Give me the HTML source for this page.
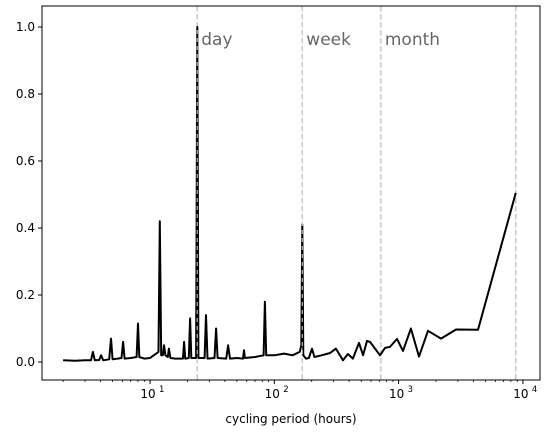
<!DOCTYPE html>
<html><head><meta charset="utf-8"><style>
body{margin:0;background:#fff;font-family:"Liberation Sans","DejaVu Sans",sans-serif}
svg text{font-family:"DejaVu Sans","Liberation Sans",sans-serif}
</style></head><body>
<svg id="chart" width="547" height="437" xmlns="http://www.w3.org/2000/svg"></svg>
<script>
const periods = [2,2.5,3,3.35,3.47,3.6,3.9,4.04,4.2,4.7,4.86,5.0,5.5,5.9,6.07,6.25,7.0,7.8,8.0,8.2,9,10,11.7,12.0,12.3,12.7,12.97,13.3,13.9,14.2,14.6,16,18.4,18.8,19.2,20.5,21,21.5,23.5,24,24.5,27.5,28.2,29,33,34,35,41,42.5,44,50,56,57,58,70,82,84,86,100,120,140,160,165,168,171,180,190,201,210,240,281,313,357,391,429,480,518,557,589,709,778,853,971,1084,1257,1458,1723,2193,2896,4354,8760];
const values  = [0.005,0.004,0.005,0.005,0.03,0.005,0.006,0.02,0.005,0.008,0.07,0.008,0.01,0.012,0.06,0.01,0.012,0.015,0.115,0.015,0.01,0.012,0.03,0.42,0.02,0.02,0.05,0.02,0.015,0.04,0.012,0.01,0.01,0.06,0.01,0.012,0.13,0.012,0.012,1.0,0.012,0.012,0.14,0.01,0.012,0.1,0.012,0.01,0.05,0.01,0.012,0.01,0.035,0.012,0.015,0.02,0.18,0.02,0.02,0.025,0.02,0.03,0.05,0.41,0.02,0.01,0.012,0.04,0.015,0.02,0.027,0.04,0.005,0.024,0.01,0.057,0.02,0.063,0.06,0.02,0.042,0.045,0.069,0.033,0.1,0.016,0.093,0.07,0.097,0.096,0.505];
const yTicks = [0.0,0.2,0.4,0.6,0.8,1.0];
const xTickExps = [1,2,3,4];
const markers = [{p:24,label:"day"},{p:168,label:"week"},{p:720,label:"month"},{p:8760,label:""}];

const svg=document.getElementById('chart');
const NS='http://www.w3.org/2000/svg';
const L=42,R=540,T=6,B=380;
const xs=p=>150+(Math.log10(p)-1)*124.3;
const ys=v=>362-v*335;
function mk(tag,attrs,parent){const e=document.createElementNS(NS,tag);for(const k in attrs)e.setAttribute(k,attrs[k]);(parent||svg).appendChild(e);return e;}

// markers
markers.forEach(m=>{
  const l=mk('line',{x1:xs(m.p),x2:xs(m.p),y1:T,y2:B,stroke:'#c8c8c8','stroke-width':1.5,'stroke-dasharray':'5.5,2.5'});
  
  
  if(m.label){
    const t=mk('text',{x:xs(m.p)+4,y:45,'font-size':17,fill:'#666'});
    t.textContent=m.label;
    
    
  }
});

// series
let d='';
periods.forEach((p,i)=>{d+=(i?'L':'M')+xs(p).toFixed(1)+','+ys(values[i]).toFixed(1);});
const path=mk('path',{d:d,fill:'none',stroke:'#000','stroke-width':2,'stroke-linejoin':'round'});



// redraw markers over line as dashed for day/week
[24,168].forEach(p=>{
  const l=mk('line',{x1:xs(p),x2:xs(p),y1:T,y2:B,stroke:'#c8c8c8','stroke-width':1.2,'stroke-dasharray':'4,4',opacity:0.9});
  
  
});

// frame
const f=mk('rect',{x:L,y:T,width:R-L,height:B-T,fill:'none',stroke:'#000','stroke-width':1});



// y ticks
yTicks.forEach(v=>{
  const tl=mk('line',{x1:L-4,x2:L,y1:ys(v),y2:ys(v),stroke:'#000'});
  
  
  const t=mk('text',{x:L-7,y:ys(v)+4,'font-size':12,'text-anchor':'end'});
  t.textContent=v.toFixed(1);
  
  
});

// x ticks
xTickExps.forEach(e=>{
  const x=xs(Math.pow(10,e));
  const tl=mk('line',{x1:x,x2:x,y1:B,y2:B+4,stroke:'#000'});
  
  
  const t=mk('text',{x:x-2,y:B+18,'font-size':12,'text-anchor':'middle'});
  t.textContent='10';
  
  
  const s=mk('text',{x:x+9,y:B+12,'font-size':8.5});
  s.textContent=String(e);
  
  
  for(let k=2;k<10;k++){
    const p=Math.pow(10,e-1)*k; const xm=xs(p);
    if(xm<L||xm>R)continue;
    const m=mk('line',{x1:xm,x2:xm,y1:B,y2:B+2,stroke:'#000','stroke-width':0.8});
    
    
  }
});
for(let k=2;k<10;k++){const xm=xs(1e4*k);if(xm<=R){const m=mk('line',{x1:xm,x2:xm,y1:B,y2:B+2,stroke:'#000','stroke-width':0.8});}}

const xl=mk('text',{x:(L+R)/2,y:423,'font-size':12,'text-anchor':'middle'});
xl.textContent='cycling period (hours)';


</script>
</body></html>
